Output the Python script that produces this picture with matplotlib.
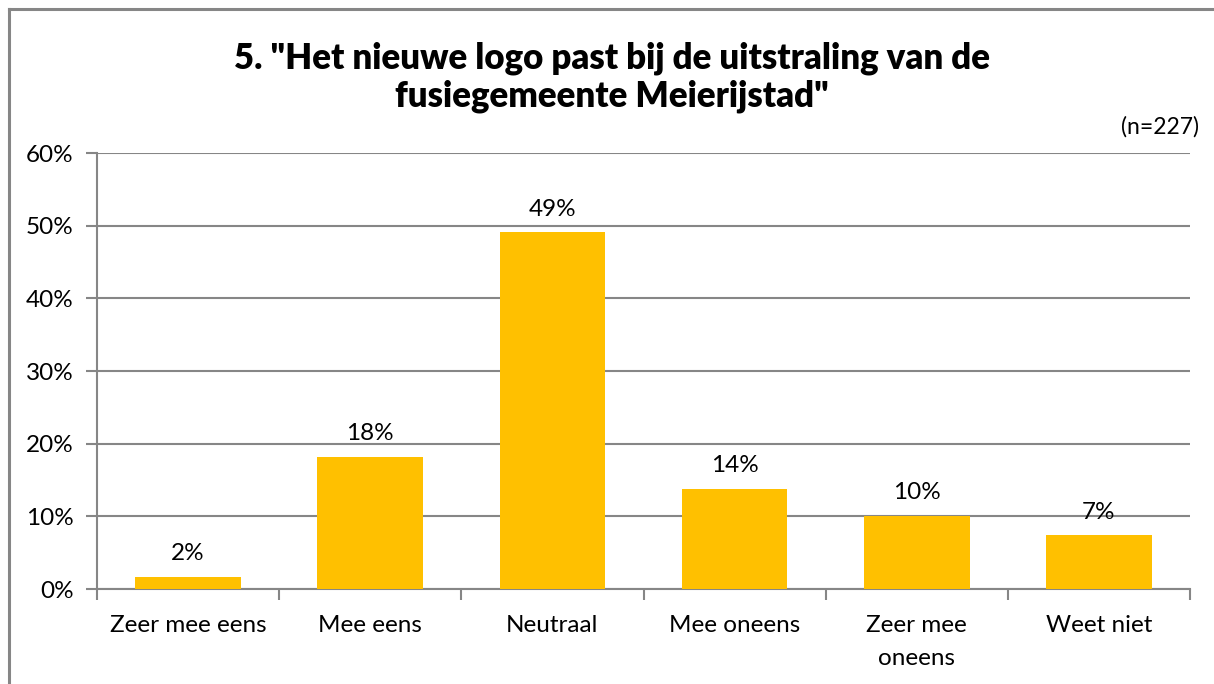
import matplotlib
matplotlib.use("Agg")
import matplotlib.pyplot as plt
from matplotlib.lines import Line2D
import numpy as np

categories = ["Zeer mee eens", "Mee eens", "Neutraal", "Mee oneens", "Zeer mee\noneens", "Weet niet"]
values = [1.7, 18.2, 49.1, 13.8, 10.1, 7.4]
labels = ["2%", "18%", "49%", "14%", "10%", "7%"]
yticks = [0, 10, 20, 30, 40, 50, 60]
ytick_labels = ["0%", "10%", "20%", "30%", "40%", "50%", "60%"]

plt.rcParams['font.family'] = ['Lato', 'DejaVu Sans']

W, H = 1214, 684
fig = plt.figure(figsize=(W / 100, H / 100), dpi=100)

# outer chart border (only top and left visible)
bx, by = 8.5 / W, 1 - 8.5 / H
fig.add_artist(Line2D([bx, bx], [-0.02, by], transform=fig.transFigure, color="#868686", linewidth=2.2))
fig.add_artist(Line2D([bx, 1.02], [by, by], transform=fig.transFigure, color="#868686", linewidth=2.2))

left, right, top, bottom = 97, 1190, 153, 589
ax = fig.add_axes([left / W, 1 - bottom / H, (right - left) / W, (bottom - top) / H])

x = np.arange(len(categories))
ax.bar(x, values, width=0.58, color="#FFC000", zorder=3)
for xi, v, lab in zip(x, values, labels):
    ax.annotate(lab, (xi, v), xytext=(0, 9), textcoords="offset points",
                ha="center", va="bottom", fontsize=17.5, color="#000000")

ax.set_xlim(-0.5, len(categories) - 0.5)
ax.set_ylim(0, 60)
ax.set_yticks(yticks)
ax.set_yticklabels(ytick_labels, fontsize=17.5)
ax.set_xticks(x)
ax.set_xticklabels(categories, fontsize=17.5, linespacing=1.7)
ax.tick_params(axis="x", length=0, pad=19)
ax.tick_params(axis="y", length=8, color="#868686", width=1.5, pad=9)
# category boundary ticks
ax.set_xticks(np.arange(-0.5, len(categories), 1), minor=True)
ax.tick_params(axis="x", which="minor", length=8, color="#868686", width=1.5)

ax.grid(axis="y", color="#868686", linewidth=1.5, zorder=0)
for s in ["top", "right"]:
    ax.spines[s].set_visible(False)
for s in ["left", "bottom"]:
    ax.spines[s].set_color("#868686")
    ax.spines[s].set_linewidth(1.5)

fig.text(612 / W, 1 - 77 / H, '5. "Het nieuwe logo past bij de uitstraling van de\nfusiegemeente Meierijstad"',
         ha="center", va="center", fontsize=25, fontweight="heavy", linespacing=1.15)
fig.text(1199 / W, 1 - 127 / H, "(n=227)", ha="right", va="center", fontsize=16.5)

fig.savefig("out.png", dpi=100)
